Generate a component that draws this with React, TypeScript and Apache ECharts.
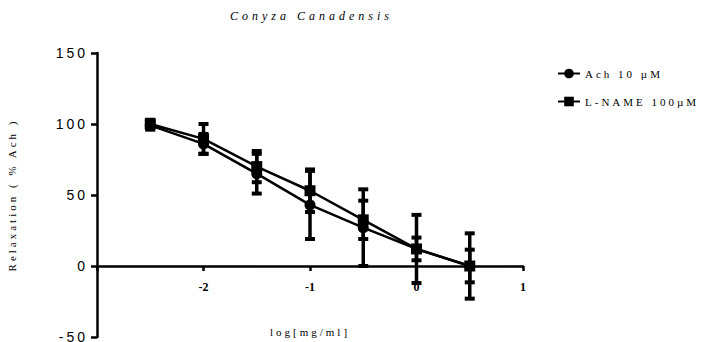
import React, { useEffect, useRef } from 'react';
import * as echarts from 'echarts';

const xValues = [-2.5, -2, -1.5, -1, -0.5, 0, 0.5];
const achMean = [99, 86, 65, 43, 27, 12, 0];
const achErr = [3, 7, 14, 24, 27, 24, 23];
const lnameMean = [100, 89.5, 70, 53, 32.5, 12, 0];
const lnameErr = [3, 10.5, 11, 15, 13.5, 8, 11.5];
const xTickLabels = [-2, -1, 0, 1];
const seriesNames = ['Ach 10 µM', 'L-NAME 100µM'];
const titleText = 'Conyza Canadensis';
const xName = 'log[mg/ml]';
const yName = 'Relaxation ( % Ach )';

const SERIF = '"Liberation Serif", "DejaVu Serif", serif';
const SANS = '"Liberation Sans", Arial, sans-serif';

const GRID_TOP = 53;
const GRID_BOTTOM = 5;
const CHART_H = 342;
const Y_MIN = -50;
const Y_MAX = 150;
// distance from the bottom of the grid to the y=0 line
const X_AXIS_OFFSET = -((0 - Y_MIN) / (Y_MAX - Y_MIN)) * (CHART_H - GRID_TOP - GRID_BOTTOM);

function errData(mean: number[], err: number[]) {
  return xValues.map((x, i) => [x, mean[i] - err[i], mean[i] + err[i]]);
}

function errRender(params: any, api: any) {
  const x = api.value(0);
  const lo = api.coord([x, api.value(1)]);
  const hi = api.coord([x, api.value(2)]);
  const w = 5;
  return {
    type: 'group',
    children: [
      { type: 'line', shape: { x1: lo[0], y1: lo[1], x2: hi[0], y2: hi[1] }, style: { stroke: '#000', lineWidth: 3.5 } },
      { type: 'rect', shape: { x: hi[0] - w, y: hi[1] - 2, width: 2 * w, height: 4 }, style: { fill: '#000' } },
      { type: 'rect', shape: { x: lo[0] - w, y: lo[1] - 2, width: 2 * w, height: 4 }, style: { fill: '#000' } },
    ],
  };
}

export default function App() {
  const ref = useRef<HTMLDivElement>(null);
  useEffect(() => {
    if (!ref.current) return;
    const chart = echarts.init(ref.current, undefined, { renderer: 'svg' });
    chart.setOption({
      animation: false,
      backgroundColor: '#fff',
      graphic: [
        {
          type: 'text',
          left: 230,
          top: 10,
          style: { text: titleText, font: `italic 12px ${SERIF}`, fill: '#000' },
        },
      ],
      legend: {
        data: seriesNames,
        orient: 'vertical',
        left: 552,
        top: 63,
        itemWidth: 22,
        itemHeight: 12,
        itemGap: 17,
        textStyle: { fontFamily: SERIF, fontSize: 11, color: '#000' },
      },
      grid: { left: 97, right: 185, top: GRID_TOP, bottom: GRID_BOTTOM, containLabel: false, outerBoundsMode: 'none' },
      xAxis: {
        type: 'value',
        min: -3,
        max: 1,
        interval: 1,
        position: 'bottom',
        offset: X_AXIS_OFFSET,
        name: xName,
        nameLocation: 'middle',
        nameGap: 60,
        nameTextStyle: { fontFamily: SERIF, fontSize: 11, color: '#000' },
        axisLine: { onZero: false, lineStyle: { color: '#000', width: 2.5 } },
        axisTick: { show: true, length: 5, lineStyle: { color: '#000', width: 2.5 } },
        splitLine: { show: false },
        axisLabel: {
          margin: 15,
          fontFamily: SERIF,
          fontSize: 12,
          fontWeight: 'bold',
          color: '#000',
          formatter: (v: number) => (xTickLabels.includes(v) ? String(v) : ''),
        },
      },
      yAxis: {
        type: 'value',
        min: Y_MIN,
        max: Y_MAX,
        interval: 50,
        name: yName,
        nameLocation: 'middle',
        nameGap: 80,
        nameTextStyle: { fontFamily: SERIF, fontSize: 11, color: '#000' },
        axisLine: { show: true, onZero: false, lineStyle: { color: '#000', width: 2.5 } },
        axisTick: { show: true, length: 6, lineStyle: { color: '#000', width: 2.5 } },
        splitLine: { show: false },
        axisLabel: { margin: 9, fontFamily: SANS, fontSize: 14, color: '#000' },
      },
      series: [
        {
          type: 'custom',
          name: 'achErr',
          renderItem: errRender,
          encode: { x: 0, y: [1, 2] },
          data: errData(achMean, achErr),
          z: 1,
        },
        {
          type: 'custom',
          name: 'lnameErr',
          renderItem: errRender,
          encode: { x: 0, y: [1, 2] },
          data: errData(lnameMean, lnameErr),
          z: 1,
        },
        {
          type: 'line',
          name: seriesNames[0],
          data: xValues.map((x, i) => [x, achMean[i]]),
          symbol: 'circle',
          symbolSize: 11,
          lineStyle: { color: '#000', width: 2.5 },
          itemStyle: { color: '#000' },
          z: 3,
        },
        {
          type: 'line',
          name: seriesNames[1],
          data: xValues.map((x, i) => [x, lnameMean[i]]),
          symbol: 'rect',
          symbolSize: 11,
          lineStyle: { color: '#000', width: 2.5 },
          itemStyle: { color: '#000' },
          z: 3,
        },
      ],
    });
    return () => chart.dispose();
  }, []);
  return (
    <>
      <style>{`.cc-chart text { letter-spacing: 3px; } .cc-chart text[style*="bold"] { letter-spacing: 0; } .cc-chart text[style*="italic"] { letter-spacing: 4px; }`}</style>
      <div
        ref={ref}
        className="cc-chart"
        style={{ position: 'fixed', left: 0, top: 0, width: 708, height: 342 }}
      />
    </>
  );
}
